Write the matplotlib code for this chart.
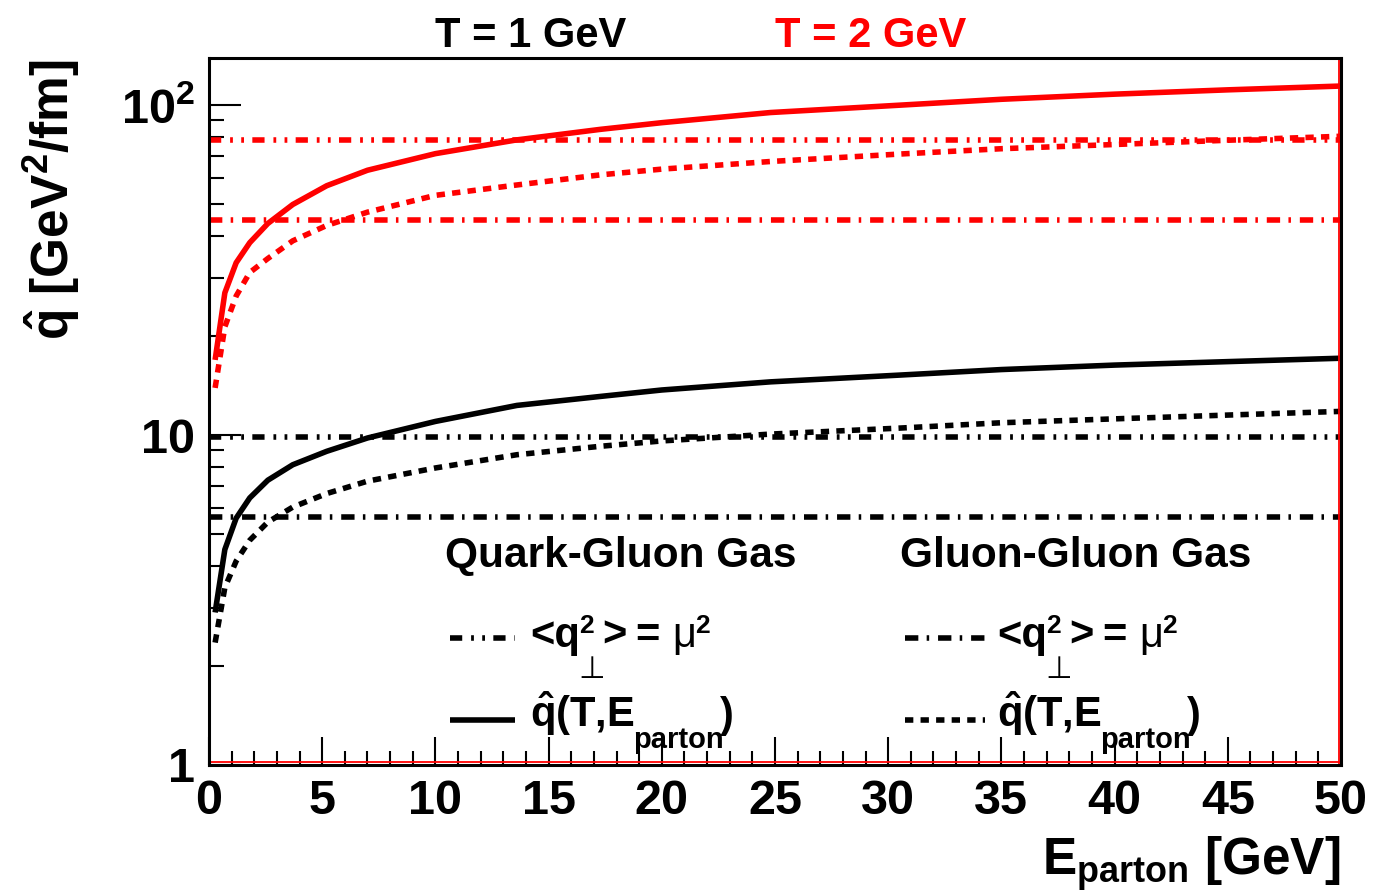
import matplotlib

matplotlib.use("Agg")
import matplotlib.pyplot as plt  # noqa: E402
from matplotlib.ticker import FixedLocator, LogLocator, MultipleLocator, NullFormatter  # noqa: E402

plt.rcParams.update({
    "font.family": ["Liberation Sans", "DejaVu Sans"],
    "font.weight": "bold",
    "mathtext.fontset": "custom",
    "mathtext.rm": "Liberation Sans:bold",
    "mathtext.bf": "Liberation Sans:bold",
    "mathtext.it": "Liberation Sans:bold",
})

# parton energy grid [GeV]
e_parton = [0.27, 0.7, 1.2, 1.8, 2.6, 3.7, 5.2, 7.0, 10, 13.6, 17.3, 20, 24.8, 30.5, 35, 40, 45, 50]

# qhat [GeV^2/fm] vs parton energy
qhat_qg_t1 = [2.9, 4.5, 5.6, 6.45, 7.3, 8.13, 8.93, 9.8, 11.0, 12.3, 13.1, 13.7, 14.5, 15.2,
              15.8, 16.3, 16.7, 17.1]
qhat_gg_t1 = [2.35, 3.45, 4.15, 4.8, 5.45, 6.05, 6.65, 7.25, 7.95, 8.72, 9.25, 9.6, 10.07, 10.5,
              10.9, 11.2, 11.5, 11.8]
qhat_qg_t2 = [16.9, 27.0, 33.3, 38.3, 43.8, 50.0, 57.0, 63.5, 71.3, 78.5, 84.5, 88.5, 95.0, 100.0,
              104.2, 108.0, 111.3, 114.3]
qhat_gg_t2 = [13.9, 21.3, 26.4, 31.1, 34.3, 38.8, 43.2, 47.4, 53.3, 57.3, 61.5, 64.0, 67.5, 71.1,
              73.8, 76.0, 78.3, 80.5]

# constant estimates with <q_perp^2> = mu^2, for T = 1 and 2 GeV
mu2_qg = [9.85, 78.3]
mu2_gg = [5.65, 45.0]
temps = ["T = 1 GeV", "T = 2 GeV"]
colors = ["black", "red"]
gases = ["Quark-Gluon Gas", "Gluon-Gluon Gas"]

ytick_vals = [1, 10, 100]
ytick_labels = ["1", "10", r"10$^{2}$"]
x_range = (0, 50)
y_range = (1, 139)

LW = 4.0
SOLID = "-"
DOTTED = (0, (1.5, 1.3))
DASH_DOT_DOT = (0, (2.2, 1.6, 0.5, 1.5, 0.5, 1.5))
DASH_DOT = (0, (2.4, 1.5, 0.45, 1.6))

W, H = 1399, 892
fig = plt.figure(figsize=(W / 100, H / 100), dpi=100)
ax = fig.add_axes([209 / W, 1 - 765 / H, (1341 - 209) / W, (765 - 58) / H])


def fx(px):
    return px / W


def fy(py):
    return 1 - py / H


def put(x, y, s, size=30, **kw):
    """Place text at pixel position (x from left, baseline y from top)."""
    kw.setdefault("va", "baseline")
    return fig.text(fx(x), fy(y), s, fontsize=size, **kw)


curves = [(qhat_qg_t1, qhat_gg_t1, 0), (qhat_qg_t2, qhat_gg_t2, 1)]
for qg, gg, i in curves:
    c = colors[i]
    ax.plot(e_parton, qg, color=c, lw=LW, ls=SOLID, solid_capstyle="butt")
    ax.plot(e_parton, gg, color=c, lw=LW, ls=DOTTED, dash_capstyle="butt")
    ax.plot(x_range, [mu2_qg[i]] * 2, color=c, lw=LW, ls=DASH_DOT_DOT, dash_capstyle="butt")
    ax.plot(x_range, [mu2_gg[i]] * 2, color=c, lw=LW, ls=DASH_DOT, dash_capstyle="butt")

ax.set_yscale("log")
ax.set_xlim(*x_range)
ax.set_ylim(*y_range)
ax.yaxis.set_major_locator(FixedLocator(ytick_vals))
ax.set_yticklabels(ytick_labels)
ax.yaxis.set_minor_locator(LogLocator(base=10, subs=range(2, 10)))
ax.yaxis.set_minor_formatter(NullFormatter())
ax.xaxis.set_major_locator(MultipleLocator(5))
ax.xaxis.set_minor_locator(MultipleLocator(1))

ax.tick_params(axis="both", which="both", direction="in", width=1.5, labelsize=35,
               top=False, right=False)
ax.tick_params(axis="y", which="major", length=23, pad=10)
ax.tick_params(axis="y", which="minor", length=11)
ax.tick_params(axis="x", which="major", length=20, pad=10)
ax.tick_params(axis="x", which="minor", length=10)
for s in ax.spines.values():
    s.set_linewidth(2.2)

# second frame edge, bottom and right
ax.plot([0, 1], [0.004, 0.004], transform=ax.transAxes, color="red", lw=1.3, clip_on=False)
ax.plot([0.9985, 0.9985], [0, 1], transform=ax.transAxes, color="red", lw=1.3, clip_on=False)

# axis titles
fig.text(fx(52), fy(200), r"$\hat{\mathbf{q}}$ [GeV$^{2}$/fm]", rotation=90,
         ha="center", va="center", fontsize=37)
put(1340, 875, r"E$_{\mathrm{parton}}$ [GeV]", size=37, ha="right")

# temperature headers
put(435, 47, temps[0], color=colors[0])
put(775, 47, temps[1], color=colors[1])

# legend blocks: gas title, sample lines, <q_perp^2> = mu^2 and qhat(T, E_parton) labels
blocks = [
    (445, 450, 515, DASH_DOT_DOT, SOLID, 530),
    (900, 905, 985, DASH_DOT, DOTTED, 997),
]
for k, (tx, lx0, lx1, ls_mu, ls_q, x0) in enumerate(blocks):
    put(tx, 567, gases[k], size=30.5)
    fig.add_artist(plt.Line2D([fx(lx0), fx(lx1)], [fy(638), fy(638)], color="black",
                              lw=LW, ls=ls_mu, dash_capstyle="butt"))
    fig.add_artist(plt.Line2D([fx(lx0), fx(lx1)], [fy(720), fy(720)], color="black",
                              lw=LW, ls=ls_q, dash_capstyle="butt", solid_capstyle="butt"))

    put(x0, 647, "<q")
    put(x0 + 49, 633, "2", size=19)
    put(x0 + 62, 678, "\u22a5", size=22, family="DejaVu Sans", weight="normal", ha="center")
    put(x0 + 72, 647, ">")
    put(x0 + 105, 647, "=")
    put(x0 + 142, 647, "\u03bc", family="Liberation Sans", weight="normal")
    put(x0 + 165, 633, "2", size=19)

    put(x0, 727, r"$\hat{\mathbf{q}}$(T,E")
    put(x0 + 103, 748, "parton", size=21)
    put(x0 + 190, 727, ")")

fig.savefig("out.png", dpi=100)
